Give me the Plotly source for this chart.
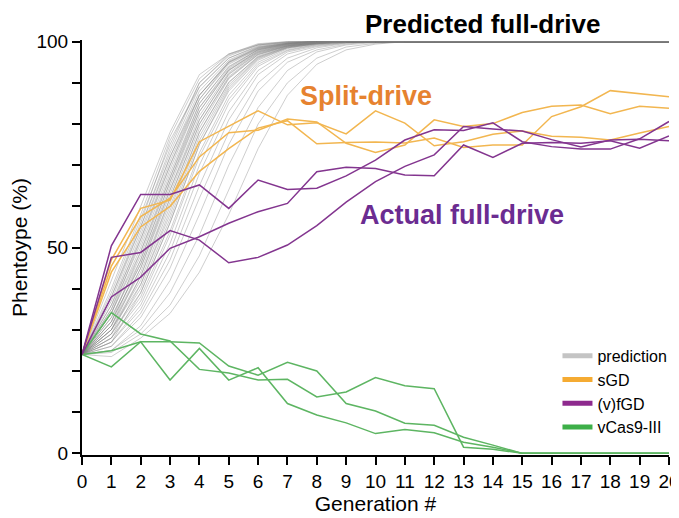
import plotly.graph_objects as go

generations = list(range(21))

# ---- predicted full-drive (gray simulation curves), % phenotype per generation ----
pred_01 = [24, 42, 60, 78, 92, 97, 99.5, 100, 100, 100, 100, 100, 100, 100, 100, 100, 100, 100, 100, 100, 100]
pred_02 = [24, 40, 58, 77, 91, 97, 99.3, 100, 100, 100, 100, 100, 100, 100, 100, 100, 100, 100, 100, 100, 100]
pred_03 = [24, 39, 57, 75, 90, 96.5, 99.2, 99.8, 100, 100, 100, 100, 100, 100, 100, 100, 100, 100, 100, 100, 100]
pred_04 = [24, 38, 56, 76, 89, 96, 99, 99.8, 100, 100, 100, 100, 100, 100, 100, 100, 100, 100, 100, 100, 100]
pred_05 = [24, 37, 55, 73, 89, 96, 98.8, 99.7, 100, 100, 100, 100, 100, 100, 100, 100, 100, 100, 100, 100, 100]
pred_06 = [24, 36, 54, 72, 88, 95.5, 98.7, 99.6, 100, 100, 100, 100, 100, 100, 100, 100, 100, 100, 100, 100, 100]
pred_07 = [24, 36, 52, 71, 87, 95, 98.5, 99.6, 100, 100, 100, 100, 100, 100, 100, 100, 100, 100, 100, 100, 100]
pred_08 = [24, 35, 51, 70, 86, 95, 98.4, 99.5, 100, 100, 100, 100, 100, 100, 100, 100, 100, 100, 100, 100, 100]
pred_09 = [24, 34, 50, 69, 86, 94.5, 98.2, 99.5, 100, 100, 100, 100, 100, 100, 100, 100, 100, 100, 100, 100, 100]
pred_10 = [24, 34, 49, 68, 85, 94, 98, 99.4, 99.9, 100, 100, 100, 100, 100, 100, 100, 100, 100, 100, 100, 100]
pred_11 = [24, 33, 48, 67, 84, 93.5, 98, 99.3, 99.9, 100, 100, 100, 100, 100, 100, 100, 100, 100, 100, 100, 100]
pred_12 = [24, 33, 47, 66, 84, 93, 97.8, 99.3, 99.8, 100, 100, 100, 100, 100, 100, 100, 100, 100, 100, 100, 100]
pred_13 = [24, 32, 46, 65, 83, 93, 97.5, 99.2, 99.8, 100, 100, 100, 100, 100, 100, 100, 100, 100, 100, 100, 100]
pred_14 = [24, 32, 46, 64, 82, 92.5, 97.5, 99.1, 99.8, 100, 100, 100, 100, 100, 100, 100, 100, 100, 100, 100, 100]
pred_15 = [24, 31, 45, 63, 81, 92, 97.2, 99, 99.7, 100, 100, 100, 100, 100, 100, 100, 100, 100, 100, 100, 100]
pred_16 = [24, 31, 44, 62, 80, 91.5, 97, 99, 99.7, 100, 100, 100, 100, 100, 100, 100, 100, 100, 100, 100, 100]
pred_17 = [24, 30, 43, 61, 79, 91, 96.8, 98.9, 99.7, 100, 100, 100, 100, 100, 100, 100, 100, 100, 100, 100, 100]
pred_18 = [24, 30, 42, 60, 78, 90, 96.5, 98.8, 99.6, 100, 100, 100, 100, 100, 100, 100, 100, 100, 100, 100, 100]
pred_19 = [24, 30, 41, 58, 77, 89.5, 96.2, 98.7, 99.6, 100, 100, 100, 100, 100, 100, 100, 100, 100, 100, 100, 100]
pred_20 = [24, 29, 40, 57, 76, 89, 96, 98.6, 99.5, 100, 100, 100, 100, 100, 100, 100, 100, 100, 100, 100, 100]
pred_21 = [24, 29, 39, 56, 75, 88, 95.5, 98.5, 99.5, 100, 100, 100, 100, 100, 100, 100, 100, 100, 100, 100, 100]
pred_22 = [24, 28, 38, 54, 73, 87, 95, 98.3, 99.4, 99.9, 100, 100, 100, 100, 100, 100, 100, 100, 100, 100, 100]
pred_23 = [24, 28, 37, 53, 72, 86, 94.5, 98, 99.3, 99.9, 100, 100, 100, 100, 100, 100, 100, 100, 100, 100, 100]
pred_24 = [24, 27, 36, 51, 70, 85, 94, 97.8, 99.2, 99.8, 100, 100, 100, 100, 100, 100, 100, 100, 100, 100, 100]
pred_25 = [24, 27, 35, 49, 68, 83, 93, 97.5, 99, 99.8, 100, 100, 100, 100, 100, 100, 100, 100, 100, 100, 100]
pred_26 = [24, 26, 34, 47, 65, 81, 92, 97, 98.8, 99.7, 100, 100, 100, 100, 100, 100, 100, 100, 100, 100, 100]
pred_27 = [24, 26, 33, 45, 62, 78, 90, 96, 98.5, 99.6, 100, 100, 100, 100, 100, 100, 100, 100, 100, 100, 100]
pred_28 = [24, 25, 31, 42, 58, 75, 88, 95, 98, 99.4, 100, 100, 100, 100, 100, 100, 100, 100, 100, 100, 100]
pred_29 = [24, 25, 30, 39, 53, 70, 84, 93, 97.5, 99.2, 99.8, 100, 100, 100, 100, 100, 100, 100, 100, 100, 100]
pred_30 = [24, 24.5, 29, 36, 48, 64, 80, 90, 96, 98.7, 99.6, 100, 100, 100, 100, 100, 100, 100, 100, 100, 100]
pred_31 = [24, 23.5, 28, 34, 44, 58, 74, 87, 94.5, 98, 99.4, 100, 100, 100, 100, 100, 100, 100, 100, 100, 100]
pred_32 = [24, 38, 55, 74, 90, 96.8, 99.2, 99.9, 100, 100, 100, 100, 100, 100, 100, 100, 100, 100, 100, 100, 100]
pred_33 = [24, 35, 53, 72, 87, 95.2, 98.6, 99.6, 100, 100, 100, 100, 100, 100, 100, 100, 100, 100, 100, 100, 100]
pred_34 = [24, 34, 52, 70, 87, 94.8, 98.3, 99.5, 100, 100, 100, 100, 100, 100, 100, 100, 100, 100, 100, 100, 100]
pred_35 = [24, 32, 49, 67, 85, 93.8, 98.1, 99.4, 99.9, 100, 100, 100, 100, 100, 100, 100, 100, 100, 100, 100, 100]
pred_36 = [24, 31, 47, 66, 83, 93.2, 97.7, 99.2, 99.8, 100, 100, 100, 100, 100, 100, 100, 100, 100, 100, 100, 100]
pred_37 = [24, 30, 45, 64, 81, 92.2, 97.3, 99, 99.7, 100, 100, 100, 100, 100, 100, 100, 100, 100, 100, 100, 100]
pred_38 = [24, 29, 43, 62, 80, 91.2, 96.9, 98.9, 99.7, 100, 100, 100, 100, 100, 100, 100, 100, 100, 100, 100, 100]
pred_39 = [24, 28, 41, 59, 78, 90.2, 96.3, 98.7, 99.6, 100, 100, 100, 100, 100, 100, 100, 100, 100, 100, 100, 100]
pred_40 = [24, 27, 39, 56, 75, 88.5, 95.8, 98.5, 99.5, 100, 100, 100, 100, 100, 100, 100, 100, 100, 100, 100, 100]

prediction_series = [pred_01, pred_02, pred_03, pred_04, pred_05, pred_06, pred_07, pred_08,
                     pred_09, pred_10, pred_11, pred_12, pred_13, pred_14, pred_15, pred_16,
                     pred_17, pred_18, pred_19, pred_20, pred_21, pred_22, pred_23, pred_24,
                     pred_25, pred_26, pred_27, pred_28, pred_29, pred_30, pred_31, pred_32,
                     pred_33, pred_34, pred_35, pred_36, pred_37, pred_38, pred_39, pred_40]

# ---- split-drive (sGD) ----
sgd_1 = [24, 47.0, 59.5, 61.5, 75.7, 79.5, 83.2, 79.8, 80.3, 77.6, 83.2, 80.2, 74.7, 75.7, 77.5, 78.3, 77.0, 76.8, 76.1, 77.8, 79.4]
sgd_2 = [24, 45.5, 57.5, 62.0, 72.0, 77.9, 78.5, 81.2, 80.5, 75.3, 73.1, 74.9, 81.0, 79.4, 80.1, 82.8, 84.3, 84.6, 82.5, 84.3, 83.8]
sgd_3 = [24, 44.0, 55.0, 60.0, 68.5, 74.0, 79.0, 80.8, 75.2, 75.5, 75.6, 75.4, 76.6, 74.3, 74.9, 74.9, 81.8, 84.2, 88.1, 87.3, 86.6]
sgd_series = [sgd_1, sgd_2, sgd_3]

# ---- actual full-drive ((v)fGD) ----
fgd_1 = [24, 50.4, 62.9, 62.9, 65.2, 59.5, 66.4, 64.1, 64.4, 67.4, 71.2, 76.1, 78.6, 78.4, 80.3, 75.7, 74.5, 73.9, 73.9, 76.4, 80.6]
fgd_2 = [24, 47.6, 48.8, 54.1, 51.8, 46.3, 47.6, 50.6, 55.3, 61.0, 66.0, 69.7, 72.5, 79.4, 78.8, 78.3, 76.2, 74.4, 76.1, 76.3, 75.9]
fgd_3 = [24, 38.0, 42.8, 49.8, 52.6, 55.9, 58.7, 60.7, 68.4, 69.5, 69.2, 67.6, 67.4, 74.9, 71.9, 75.3, 75.5, 75.3, 75.9, 74.1, 77.1]
fgd_series = [fgd_1, fgd_2, fgd_3]

# ---- vCas9-III ----
vcas_1 = [24, 34.2, 29.0, 27.3, 20.4, 19.5, 17.8, 18.0, 13.7, 14.9, 18.4, 16.4, 15.7, 1.5, 1.0, 0, 0, 0, 0, 0, 0]
vcas_2 = [24, 24.9, 27.1, 27.1, 26.8, 21.2, 19.0, 22.1, 20.0, 12.1, 10.3, 7.3, 6.8, 3.9, 2.0, 0, 0, 0, 0, 0, 0]
vcas_3 = [24, 21.0, 27.1, 17.8, 25.5, 17.8, 20.8, 12.1, 9.3, 7.4, 4.8, 5.8, 5.0, 2.7, 1.5, 0, 0, 0, 0, 0, 0]
vcas_series = [vcas_1, vcas_2, vcas_3]

legend_names = ["prediction", "sGD", "(v)fGD", "vCas9-III"]
x_tick_labels = [str(g) for g in generations]
y_tick_values = [0, 10, 20, 30, 40, 50, 60, 70, 80, 90, 100]
y_tick_labels = ["0", "", "", "", "", "50", "", "", "", "", "100"]

GRAY = "rgba(125,125,125,0.38)"
ORANGE = "#F2B650"
PURPLE = "#83358F"
GREEN = "#5DB562"
LEG_COLORS = ["#C4C4C4", "#F5AB32", "#8E2A8E", "#3DAF48"]

fig = go.Figure()
for s in prediction_series:
    fig.add_trace(go.Scatter(x=generations, y=s, mode="lines", showlegend=False,
                             line=dict(color=GRAY, width=1), hoverinfo="skip"))
for s in vcas_series:
    fig.add_trace(go.Scatter(x=generations, y=s, mode="lines", showlegend=False,
                             line=dict(color=GREEN, width=1.5)))
for s in sgd_series:
    fig.add_trace(go.Scatter(x=generations, y=s, mode="lines", showlegend=False,
                             line=dict(color=ORANGE, width=1.5)))
for s in fgd_series:
    fig.add_trace(go.Scatter(x=generations, y=s, mode="lines", showlegend=False,
                             line=dict(color=PURPLE, width=1.5)))

for name, col in zip(legend_names, LEG_COLORS):
    fig.add_trace(go.Scatter(x=[None], y=[None], mode="lines", name=name,
                             line=dict(color=col, width=5)))

FONT = "Liberation Sans, Arial, sans-serif"

fig.add_annotation(x=0.683, y=1.039, xref="paper", yref="paper", text="<b>Predicted full-drive</b>",
                   showarrow=False, font=dict(family=FONT, size=26, color="black"),
                   xanchor="center", yanchor="middle", borderpad=0)
fig.add_annotation(x=9.68, y=86.8, text="<b>Split-drive</b>", showarrow=False,
                   font=dict(family=FONT, size=27, color="#E6822F"), xanchor="center", yanchor="middle")
fig.add_annotation(x=12.93, y=57.9, text="<b>Actual full-drive</b>", showarrow=False,
                   font=dict(family=FONT, size=27, color="#6B2C91"), xanchor="center", yanchor="middle")

# page body has an 8px margin; figure sized to fit the 679x518 window exactly
fig.update_layout(
    width=671, height=510,
    margin=dict(l=74, r=10, t=32, b=63, autoexpand=False),
    paper_bgcolor="white", plot_bgcolor="white",
    font=dict(family=FONT, color="black"),
    legend=dict(x=0.81, y=0.28, xanchor="left", yanchor="top",
                bgcolor="rgba(0,0,0,0)", font=dict(family=FONT, size=16),
                tracegroupgap=0, itemwidth=30),
    xaxis=dict(range=[0, 20], tickmode="array", tickvals=generations, ticktext=x_tick_labels,
               ticks="outside", ticklen=8, tickwidth=2, tickcolor="black",
               showline=True, linewidth=2, linecolor="black", showgrid=False, zeroline=False,
               tickfont=dict(family=FONT, size=19), automargin=False, ticklabeloverflow="allow",
               title=dict(text="Generation #", font=dict(family=FONT, size=21), standoff=0)),
    yaxis=dict(range=[-0.4, 100.4], tickmode="array", tickvals=y_tick_values, ticktext=y_tick_labels,
               ticks="outside", ticklen=8, tickwidth=2, tickcolor="black",
               showline=True, linewidth=2, linecolor="black", showgrid=False, zeroline=False,
               tickfont=dict(family=FONT, size=19), automargin=False,
               title=dict(text="Phentoype (%)", font=dict(family=FONT, size=21), standoff=12)),
)

fig.write_html("out.html")
